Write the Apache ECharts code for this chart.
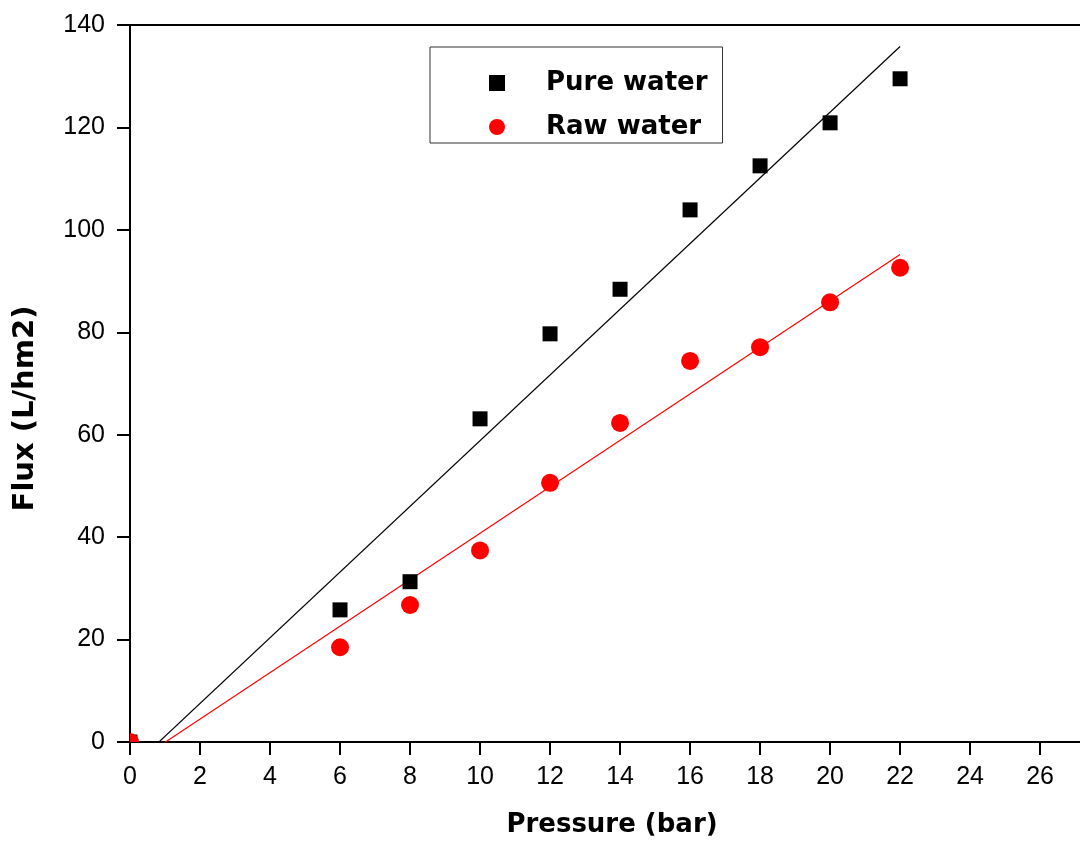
<!DOCTYPE html>
<html>
<head>
<meta charset="utf-8">
<script src="https://cdn.jsdelivr.net/npm/echarts@6/dist/echarts.min.js"></script>
<style>
html,body{margin:0;padding:0;background:#fff;}
#chart{width:1080px;height:845px;}
</style>
</head>
<body>
<div id="chart"></div>
<script>
// Data
const pressure = [0, 6, 8, 10, 12, 14, 16, 18, 20, 22];
const pureWater = [0, 25.8, 31.3, 63.1, 79.7, 88.4, 103.9, 112.5, 120.9, 129.5];
const rawWater = [0, 18.5, 26.75, 37.4, 50.6, 62.3, 74.4, 77.1, 85.85, 92.6];
// Fitted straight lines (end points)
const fitX = [0, 22];
const pureFitY = [-5.3, 135.8];
const rawFitY = [-4.6, 95.2];
// Tick labels
const xTicks = [0, 2, 4, 6, 8, 10, 12, 14, 16, 18, 20, 22, 24, 26];
const yTicks = [0, 20, 40, 60, 80, 100, 120, 140];
const seriesNames = ['Pure water', 'Raw water'];

const pairs = (xs, ys) => xs.map((x, i) => [x, ys[i]]);

const chart = echarts.init(document.getElementById('chart'), null, {renderer: 'canvas'});
const tickFont = {fontFamily: 'Liberation Sans', fontSize: 25, color: '#000'};
const titleFont = {fontFamily: 'DejaVu Sans', fontWeight: 'bold', color: '#000'};
const XMAX = 27.14;

// marker drawn through the library's coordinate system, clipped to the grid
function markerRenderer(kind, size) {
  return function (params, api) {
    const p = api.coord([api.value(0), api.value(1)]);
    const color = api.visual('color');
    if (kind === 'rect') {
      return {type: 'rect', shape: {x: p[0] - size / 2, y: p[1] - size / 2, width: size, height: size},
              style: {fill: color}};
    }
    return {type: 'circle', shape: {cx: p[0], cy: p[1], r: size / 2}, style: {fill: color}};
  };
}

chart.setOption({
  backgroundColor: '#fff',
  animation: false,
  grid: {left: 130, top: 25, right: 0, bottom: 103, containLabel: false},
  legend: {
    data: [{name: seriesNames[0], icon: 'rect'}, {name: seriesNames[1], icon: 'circle'}],
    orient: 'vertical',
    left: 430,
    top: 47,
    itemWidth: 16,
    itemHeight: 16,
    itemGap: 14,
    padding: [21, 15, 1, 59],
    borderColor: '#333',
    borderWidth: 1,
    textStyle: Object.assign({fontSize: 26, lineHeight: 30, padding: [0, 0, 0, 36]}, titleFont)
  },
  xAxis: [{
    type: 'value',
    min: 0, max: XMAX, interval: 2,
    axisLine: {show: true, onZero: false, lineStyle: {color: '#000', width: 2}},
    axisTick: {show: true, inside: false, length: 13, customValues: xTicks, lineStyle: {color: '#000', width: 2}},
    axisLabel: Object.assign({margin: 23, customValues: xTicks}, tickFont),
    splitLine: {show: false},
    name: 'Pressure (bar)',
    nameLocation: 'middle',
    nameGap: 70,
    nameTextStyle: Object.assign({fontSize: 26, padding: [0, 0, 0, 14]}, titleFont)
  }, {
    type: 'value',
    position: 'top',
    min: 0, max: XMAX, interval: 2,
    axisLine: {show: true, onZero: false, lineStyle: {color: '#000', width: 2}},
    axisTick: {show: false},
    axisLabel: {show: false},
    splitLine: {show: false}
  }],
  yAxis: {
    type: 'value',
    min: 0, max: 140, interval: 20,
    axisLine: {show: true, onZero: false, lineStyle: {color: '#000', width: 2}},
    axisTick: {show: true, inside: false, length: 13, customValues: yTicks, lineStyle: {color: '#000', width: 2}},
    axisLabel: Object.assign({margin: 25, customValues: yTicks}, tickFont),
    splitLine: {show: false},
    name: 'Flux (L/hm2)',
    nameLocation: 'middle',
    nameGap: 90,
    nameTextStyle: Object.assign({fontSize: 29, padding: [0, 50, 0, 0]}, titleFont)
  },
  series: [
    {
      name: 'Pure fit', type: 'line', data: pairs(fitX, pureFitY),
      showSymbol: false, symbol: 'none', clip: true, silent: true,
      lineStyle: {color: '#000', width: 1.2}, z: 2
    },
    {
      name: 'Raw fit', type: 'line', data: pairs(fitX, rawFitY),
      showSymbol: false, symbol: 'none', clip: true, silent: true,
      lineStyle: {color: '#ff0000', width: 1.2}, z: 2
    },
    {
      name: seriesNames[0], type: 'custom', data: pairs(pressure, pureWater),
      encode: {x: 0, y: 1}, clip: true,
      renderItem: markerRenderer('rect', 15),
      itemStyle: {color: '#000', opacity: 1}, z: 3
    },
    {
      name: seriesNames[1], type: 'custom', data: pairs(pressure, rawWater),
      encode: {x: 0, y: 1}, clip: true,
      renderItem: markerRenderer('circle', 18),
      itemStyle: {color: '#ff0000', opacity: 1}, z: 4
    }
  ]
});
</script>
</body>
</html>
